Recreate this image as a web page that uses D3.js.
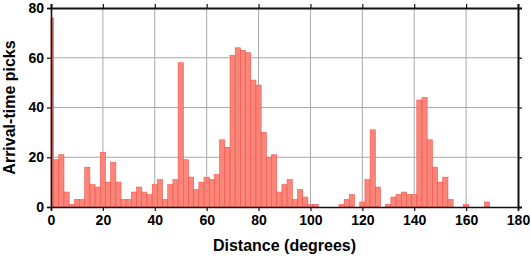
<!DOCTYPE html>
<html>
<head>
<meta charset="utf-8">
<script src="https://cdn.jsdelivr.net/npm/d3@7"></script>
<style>
  body { margin: 0; background: #fff; }
  svg { display: block; font-family: "Liberation Sans", Arial, Helvetica, sans-serif; font-weight: bold; }
</style>
</head>
<body>
<div id="chart"></div>
<script>
// picks per 2-degree bin, bins centred on even degrees (first bin clipped at 0)
var binWidth = 2;
var counts = [
  76, 19, 21, 6, 1, 3, 3, 16, 9, 8,
  22, 10, 18, 10, 3, 3, 6, 8, 6, 5,
  9, 11, 3, 9, 11, 58, 19, 12, 7, 10,
  12, 11, 13, 27, 24, 61, 64, 63, 62, 51,
  49, 30, 20, 21, 6, 9, 11, 3, 7, 4,
  1, 1, 0, 0, 0, 0, 1, 3, 5, 0,
  2, 11, 31, 8, 0, 1, 4, 5, 6, 5,
  5, 43, 44, 27, 16, 10, 12, 3, 0, 0,
  1, 0, 0, 0, 2, 0, 0, 0, 0, 0
];
var binCenters = d3.range(0, counts.length * binWidth, binWidth);
var xTicks = [0, 20, 40, 60, 80, 100, 120, 140, 160, 180];
var yTicks = [0, 20, 40, 60, 80];

var width = 531, height = 258;
var margin = {top: 8, right: 13, bottom: 51, left: 51};

var svg = d3.select("#chart").append("svg")
    .attr("width", width)
    .attr("height", height);

var x = d3.scaleLinear().domain([0, 180]).range([margin.left, width - margin.right]);
var y = d3.scaleLinear().domain([0, 80]).range([height - margin.bottom, margin.top]);

//grid lines
var grid = svg.append("g").attr("class", "grid");
grid.selectAll("line.gx").data(xTicks.slice(1, -1)).enter().append("line")
    .attr("x1", function(d) { return x(d); })
    .attr("x2", function(d) { return x(d); })
    .attr("y1", y(0))
    .attr("y2", y(80))
    .attr("stroke", "#a8a8a8")
    .attr("stroke-width", 1);
grid.selectAll("line.gy").data(yTicks.slice(1, -1)).enter().append("line")
    .attr("x1", x(0))
    .attr("x2", x(180))
    .attr("y1", function(d) { return y(d); })
    .attr("y2", function(d) { return y(d); })
    .attr("stroke", "#a8a8a8")
    .attr("stroke-width", 1);

//bars
var data = binCenters.map(function(c, i) {
    return {lo: Math.max(0, c - binWidth / 2), hi: Math.min(180, c + binWidth / 2), n: counts[i]};
}).filter(function(d) { return d.n > 0; });

svg.append("g").selectAll("rect").data(data).enter().append("rect")
    .attr("x", function(d) { return x(d.lo); })
    .attr("width", function(d) { return x(d.hi) - x(d.lo); })
    .attr("y", function(d) { return y(d.n); })
    .attr("height", function(d) { return y(0) - y(d.n); })
    .attr("fill", "#fa8072")
    .attr("fill-opacity", 0.95)
    .attr("stroke", "#f5524a")
    .attr("stroke-width", 0.6);

//axes
var xAxis = d3.axisBottom(x).tickValues(xTicks).tickSize(4).tickPadding(4);
var yAxis = d3.axisLeft(y).tickValues(yTicks).tickSize(4).tickPadding(3);
var xTop = d3.axisTop(x).tickValues(xTicks).tickSize(4).tickFormat("");
var yRight = d3.axisRight(y).tickValues(yTicks).tickSize(4).tickFormat("");

function styleAxis(g, w) {
    g.select(".domain").attr("stroke", "#111").attr("stroke-width", w);
    g.selectAll(".tick line").attr("stroke", "#111").attr("stroke-width", 1.2);
    g.selectAll("text").attr("fill", "#000").style("font-size", "14px").style("font-weight", "bold");
}

svg.append("g").attr("transform", "translate(0," + y(0) + ")").call(xAxis).call(styleAxis, 1.6)
    .attr("font-family", null);
svg.append("g").attr("transform", "translate(" + x(0) + ",0)").call(yAxis).call(styleAxis, 1.6)
    .attr("font-family", null);
svg.append("g").attr("transform", "translate(0," + y(80) + ")").call(xTop).call(styleAxis, 2);
svg.append("g").attr("transform", "translate(" + x(180) + ",0)").call(yRight).call(styleAxis, 2);

//axis titles
svg.append("text")
    .attr("x", (x(0) + x(180)) / 2)
    .attr("y", 251)
    .attr("text-anchor", "middle")
    .style("font-size", "16px")
    .text("Distance (degrees)");

svg.append("text")
    .attr("transform", "translate(15," + (y(0) + y(80)) / 2 + ") rotate(-90)")
    .attr("text-anchor", "middle")
    .style("font-size", "16px")
    .text("Arrival-time picks");
</script>
</body>
</html>
